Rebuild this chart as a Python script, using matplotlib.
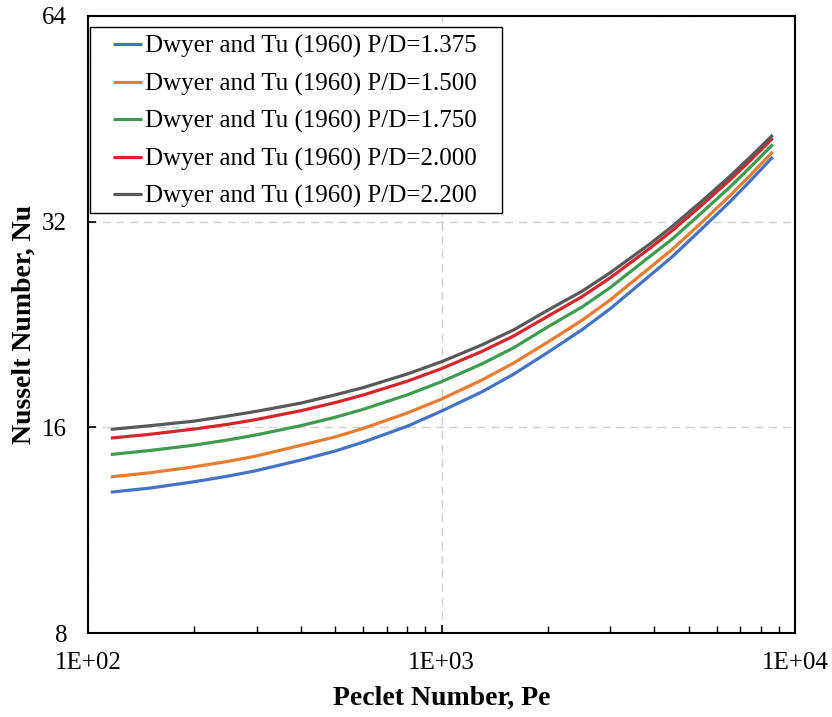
import matplotlib
matplotlib.use("Agg")
import matplotlib.pyplot as plt
from matplotlib.patches import Rectangle
from matplotlib.ticker import FixedLocator, LogLocator, NullFormatter, NullLocator

plt.rcParams['font.family'] = ['Liberation Serif', 'DejaVu Serif']

# Peclet numbers at which the curves are sampled
pe = [116, 150, 200, 250, 300, 400, 500, 600, 800, 1000, 1300, 1600, 2000,
      2500, 3000, 3890, 4500, 5400, 6500, 7500, 8650]

# Nusselt number for each pitch-to-diameter ratio
nu_1375 = [12.86, 13.04, 13.32, 13.58, 13.83, 14.33, 14.77, 15.22, 16.06, 16.90,
           18.03, 19.14, 20.60, 22.24, 23.86, 26.70, 28.45, 31.10, 34.10, 36.79, 39.80]
nu_1500 = [13.54, 13.73, 14.01, 14.27, 14.53, 15.06, 15.49, 15.94, 16.79, 17.60,
           18.76, 19.87, 21.33, 22.96, 24.58, 27.42, 29.16, 31.80, 34.81, 37.49, 40.50]
nu_1750 = [14.60, 14.80, 15.07, 15.34, 15.60, 16.09, 16.55, 17.00, 17.85, 18.66,
           19.81, 20.92, 22.45, 24.01, 25.62, 28.48, 30.19, 32.85, 35.84, 38.52, 41.50]
nu_2000 = [15.43, 15.63, 15.91, 16.17, 16.43, 16.92, 17.39, 17.84, 18.69, 19.50,
           20.66, 21.77, 23.27, 24.86, 26.48, 29.27, 31.06, 33.70, 36.71, 39.39, 42.40]
nu_2200 = [15.89, 16.09, 16.34, 16.63, 16.89, 17.36, 17.85, 18.29, 19.15, 19.96,
           21.12, 22.22, 23.75, 25.32, 26.94, 29.70, 31.51, 34.15, 37.17, 39.86, 42.85]

labels = [
    "Dwyer and Tu (1960) P/D=1.375",
    "Dwyer and Tu (1960) P/D=1.500",
    "Dwyer and Tu (1960) P/D=1.750",
    "Dwyer and Tu (1960) P/D=2.000",
    "Dwyer and Tu (1960) P/D=2.200",
]
colors = ['#4472C4', '#E97C30', '#3E9B4F', '#D7262B', '#595959']

x_ticks = [100, 1000, 10000]
x_tick_labels = ["1E+02", "1E+03", "1E+04"]
y_ticks = [8, 16, 32, 64]
y_tick_labels = ["8", "16", "32", "64"]

W, H = 832, 717
fig = plt.figure(figsize=(W / 100, H / 100), dpi=100)
ax = fig.add_axes([88 / W, 84 / H, 707 / W, 617 / H])

series = [nu_1375, nu_1500, nu_1750, nu_2000, nu_2200]
for ys, lab, col in zip(series, labels, colors):
    ax.plot(pe, ys, color=col, lw=2.3, label=lab, solid_capstyle='butt',
            solid_joinstyle='round')

ax.set_xscale('log')
ax.set_yscale('log', base=2)
ax.set_xlim(100, 10000)
ax.set_ylim(8, 64)

ax.xaxis.set_major_locator(FixedLocator(x_ticks))
ax.set_xticklabels(x_tick_labels)
ax.xaxis.set_minor_locator(LogLocator(base=10, subs=range(2, 10)))
ax.xaxis.set_minor_formatter(NullFormatter())
ax.yaxis.set_major_locator(FixedLocator(y_ticks))
ax.set_yticklabels(y_tick_labels)
ax.yaxis.set_minor_locator(NullLocator())

ax.tick_params(which='major', direction='in', length=6, width=1.2,
               labelsize=18, colors='black')
ax.tick_params(which='minor', direction='in', length=5, width=1.0)
ax.tick_params(axis='x', which='major', pad=14)
ax.tick_params(axis='y', which='major', pad=15)

ax.grid(True, which='major', color='#D0D0D0', linestyle=(0, (6, 4)), lw=1.0)
ax.set_axisbelow(True)
for sp in ax.spines.values():
    sp.set_linewidth(1.5)
    sp.set_color('black')

ax.set_xlabel("Peclet Number, Pe", fontsize=20, fontweight='bold', labelpad=8)
ax.set_ylabel("Nusselt Number, Nu", fontsize=20, fontweight='bold', labelpad=4)

# Legend entries without their own frame; a box is drawn around them below
leg = ax.legend(loc='upper left', bbox_to_anchor=(113 / W, 1 - 35 / H),
                bbox_transform=fig.transFigure, borderaxespad=0, borderpad=0,
                fontsize=18, frameon=False, handlelength=1.16,
                handletextpad=0.12, labelspacing=0.58)

fig.canvas.draw()
bb = leg.get_window_extent()
pad_l, pad_r, pad_t, pad_b = 23, 25, 8, 5
x0 = (bb.x0 - pad_l) / W
y0 = (bb.y0 - pad_b) / H
box = Rectangle((x0, y0), (bb.width + pad_l + pad_r) / W,
                (bb.height + pad_t + pad_b) / H, transform=fig.transFigure,
                facecolor='white', edgecolor='black', lw=1.0, zorder=4)
ax.add_artist(box)
box.set_clip_on(False)
leg.set_zorder(5)

fig.savefig("out.png", dpi=100)
